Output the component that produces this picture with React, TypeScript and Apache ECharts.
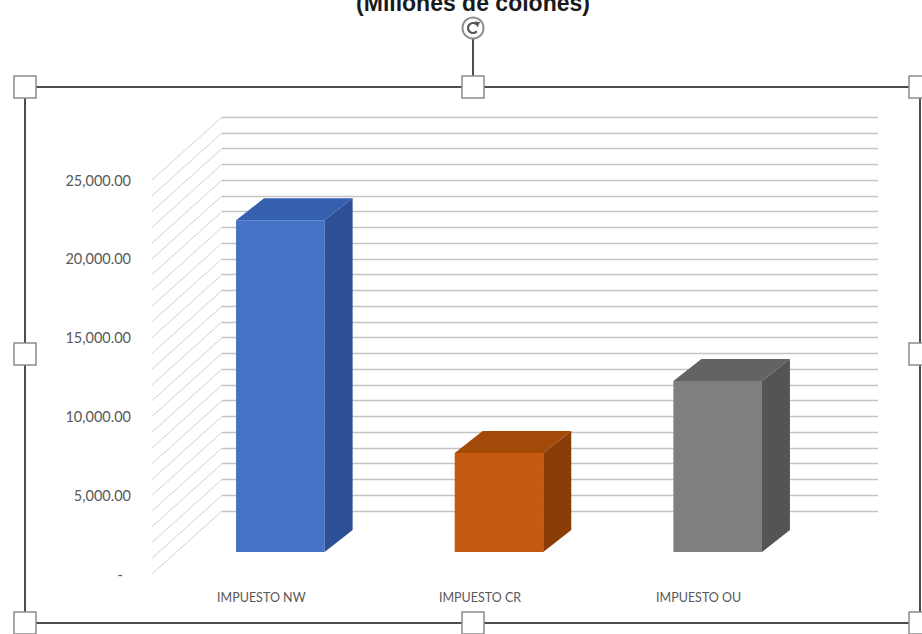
import React, { useEffect, useRef } from 'react';
import * as echarts from 'echarts';

const titleText = '(Millones de colones)';
const categories = ['IMPUESTO NW', 'IMPUESTO CR', 'IMPUESTO OU'];
const values = [21050, 6280, 10850];
const axisMin = 0;
const axisMax = 25000;
const labelStep = 5000;
const wallStep = 1000;

const frontColors = ['#4472C4', '#C55A11', '#7F7F7F'];
const topColors = ['#3560B0', '#A44A08', '#636363'];
const sideColors = ['#2C4F95', '#8A3D06', '#545454'];

const wallLevels: number[] = [];
for (let v = axisMin; v <= axisMax; v += wallStep) wallLevels.push(v);

const WALL_DX = 70;
const WALL_DY = -63;
const BAR_OX = 19;
const BAR_OY = -22;
const BAR_DX = 28;
const BAR_DY = -22;

function fmt(v: number): string {
  if (v === 0) return '{d|-}';
  return v.toLocaleString('en-US', { minimumFractionDigits: 2, maximumFractionDigits: 2 });
}

export default function App() {
  const ref = useRef<HTMLDivElement>(null);
  useEffect(() => {
    if (!ref.current) return;
    const chart = echarts.init(ref.current, null, { renderer: 'svg' });
    const handles = [
      [25, 87], [473, 87], [920, 87],
      [25, 354], [920, 354],
      [25, 623], [473, 623], [920, 623],
    ];
    const deg = Math.PI / 180;
    const option: any = {
      animation: false,
      backgroundColor: '#ffffff',
      grid: [
        { left: 152, right: 114, top: 180, bottom: 60 },
        { left: 222, right: 44, top: 117, bottom: 123 },
      ],
      xAxis: [
        {
          gridIndex: 0,
          type: 'category',
          data: categories,
          axisLine: { show: false },
          axisTick: { show: false },
          axisLabel: {
            margin: 17,
            fontFamily: 'Lato',
            fontSize: 12.5,
            color: '#595959',
          },
        },
        {
          gridIndex: 1,
          type: 'category',
          data: categories,
          show: false,
        },
      ],
      yAxis: [
        {
          gridIndex: 0,
          type: 'value',
          min: axisMin,
          max: axisMax,
          interval: labelStep,
          axisLine: { show: false },
          axisTick: { show: false },
          splitLine: { show: false },
          axisLabel: {
            margin: 21,
            fontFamily: 'Lato',
            fontSize: 14.5,
            color: '#595959',
            formatter: fmt,
            rich: { d: { padding: [0, 8, 0, 0], fontFamily: 'Lato', fontSize: 14.5, color: '#595959' } },
          },
        },
        {
          gridIndex: 1,
          type: 'value',
          min: axisMin,
          max: axisMax,
          interval: wallStep,
          axisLine: { show: false },
          axisTick: { show: false },
          axisLabel: { show: false },
          splitLine: { show: true, lineStyle: { color: '#c4c4c4', width: 1.4 } },
        },
      ],
      series: [
        {
          type: 'custom',
          name: 'sidewall',
          xAxisIndex: 0,
          yAxisIndex: 0,
          z: 1,
          silent: true,
          data: wallLevels.map((v) => [0, v]),
          renderItem: (params: any, api: any) => {
            const cs = params.coordSys;
            const p = api.coord([0, api.value(1)]);
            return {
              type: 'line',
              shape: { x1: cs.x, y1: p[1], x2: cs.x + WALL_DX, y2: p[1] + WALL_DY },
              style: { stroke: '#d2d2d2', lineWidth: 1 },
            };
          },
        },
        {
          type: 'custom',
          name: 'bars',
          xAxisIndex: 0,
          yAxisIndex: 0,
          z: 3,
          data: values.map((v, i) => [i, v]),
          renderItem: (params: any, api: any) => {
            const i = api.value(0);
            const v = api.value(1);
            const top = api.coord([i, v]);
            const base = api.coord([i, 0]);
            const band = api.size([1, 0])[0];
            const w = band * 0.405;
            const x0 = top[0] + BAR_OX - w / 2;
            const x1 = x0 + w;
            const yt = top[1] + BAR_OY;
            const yb = base[1] + BAR_OY;
            return {
              type: 'group',
              children: [
                {
                  type: 'rect',
                  shape: { x: x0, y: yt, width: w, height: yb - yt },
                  style: { fill: frontColors[i] },
                },
                {
                  type: 'polygon',
                  shape: {
                    points: [
                      [x0, yt], [x1, yt], [x1 + BAR_DX, yt + BAR_DY], [x0 + BAR_DX, yt + BAR_DY],
                    ],
                  },
                  style: { fill: topColors[i] },
                },
                {
                  type: 'polygon',
                  shape: {
                    points: [
                      [x1, yt], [x1 + BAR_DX, yt + BAR_DY], [x1 + BAR_DX, yb + BAR_DY], [x1, yb],
                    ],
                  },
                  style: { fill: sideColors[i] },
                },
              ],
            };
          },
        },
      ],
      graphic: [
        {
          type: 'text',
          x: 473,
          y: 3,
          z: 10,
          style: {
            text: titleText,
            fontFamily: 'Liberation Sans',
            fontWeight: 'bold',
            fontSize: 23,
            fill: '#1a1a1a',
            align: 'center',
            verticalAlign: 'middle',
          },
        },
        {
          type: 'rect',
          z: 10,
          shape: { x: 25, y: 87, width: 895, height: 536 },
          style: { fill: 'none', stroke: '#4d4d4d', lineWidth: 2 },
        },
        {
          type: 'line',
          z: 10,
          shape: { x1: 473, y1: 39, x2: 473, y2: 77 },
          style: { stroke: '#4d4d4d', lineWidth: 2 },
        },
        {
          type: 'circle',
          z: 11,
          shape: { cx: 473, cy: 28, r: 10.5 },
          style: { fill: '#ffffff', stroke: '#8c8c8c', lineWidth: 2 },
        },
        {
          type: 'arc',
          z: 12,
          shape: { cx: 473, cy: 28, r: 5, startAngle: 40 * deg, endAngle: 310 * deg, clockwise: true },
          style: { fill: 'none', stroke: '#555555', lineWidth: 2.2 },
        },
        {
          type: 'polygon',
          z: 12,
          shape: { points: [[474.5, 21.5], [480, 22], [477.5, 27.5]] },
          style: { fill: '#555555' },
        },
        ...handles.map((h) => ({
          type: 'rect',
          z: 13,
          shape: { x: h[0] - 11, y: h[1] - 11, width: 22, height: 22 },
          style: { fill: '#ffffff', stroke: '#8c8c8c', lineWidth: 1.5 },
        })),
      ],
    };
    chart.setOption(option);
    return () => chart.dispose();
  }, []);
  return (
    <div
      ref={ref}
      style={{ position: 'fixed', left: 0, top: 0, width: 922, height: 634, background: '#fff' }}
    />
  );
}
